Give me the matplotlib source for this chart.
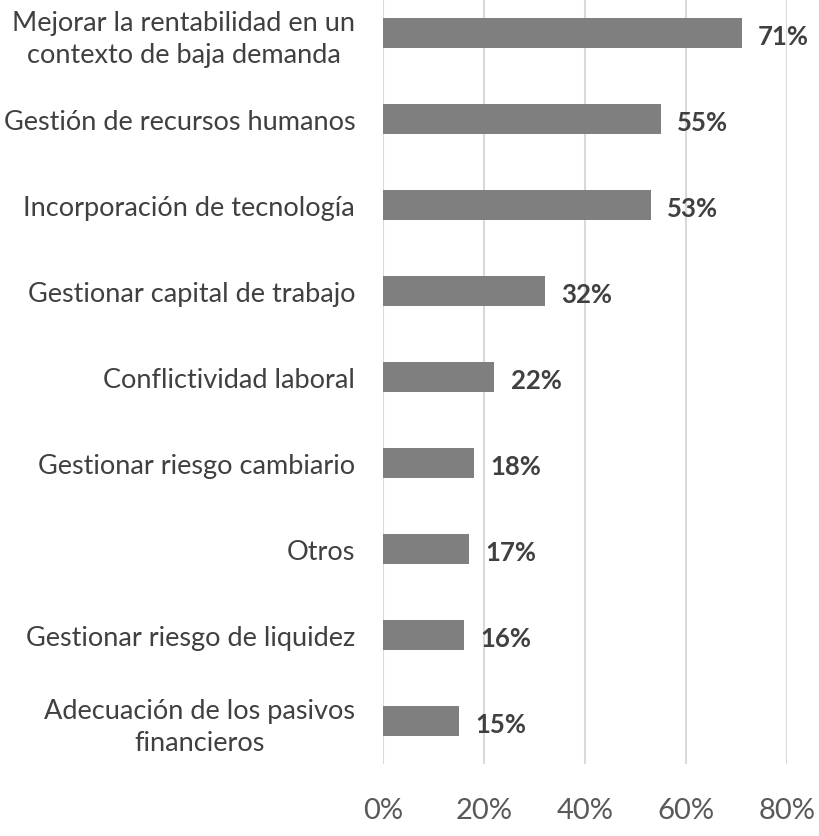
import matplotlib.pyplot as plt

categories = [
    "Mejorar la rentabilidad en un\ncontexto de baja demanda",
    "Gestión de recursos humanos",
    "Incorporación de tecnología",
    "Gestionar capital de trabajo",
    "Conflictividad laboral",
    "Gestionar riesgo cambiario",
    "Otros",
    "Gestionar riesgo de liquidez",
    "Adecuación de los pasivos\nfinancieros",
]
values = [0.71, 0.55, 0.53, 0.32, 0.22, 0.18, 0.17, 0.16, 0.15]
xticks = [0, 0.2, 0.4, 0.6, 0.8]
xtick_labels = ["0%", "20%", "40%", "60%", "80%"]

plt.rcParams["font.family"] = ["Lato", "DejaVu Sans"]

fig = plt.figure(figsize=(8.2, 8.37), dpi=100)
ax = fig.add_axes([383 / 820, 72 / 837, 404 / 820, 774 / 837])

ypos = list(range(len(categories)))
ax.barh(ypos, values, height=0.35, color="#7f7f7f", zorder=3)
for y, v in zip(ypos, values):
    ax.text(v + 0.033, y + 0.03, f"{round(v * 100)}%", va="center", ha="left",
            fontsize=18.5, fontweight="bold", color="#404040", zorder=4)

ax.set_ylim(len(categories) - 0.5, -0.5)
ax.set_xlim(0, 0.8)
ax.set_yticks(ypos)
ax.set_yticklabels(categories, fontsize=19.5, color="#404040",
                   multialignment="center", linespacing=1.35)
ax.set_xticks(xticks)
ax.set_xticklabels(xtick_labels, fontsize=21, color="#595959")
ax.tick_params(axis="both", length=0)
ax.tick_params(axis="y", pad=20)
ax.tick_params(axis="x", pad=24)
ax.grid(axis="x", color="#d9d9d9", linewidth=1.5, zorder=0)
for s in ax.spines.values():
    s.set_visible(False)

fig.savefig("out.png", dpi=100)
